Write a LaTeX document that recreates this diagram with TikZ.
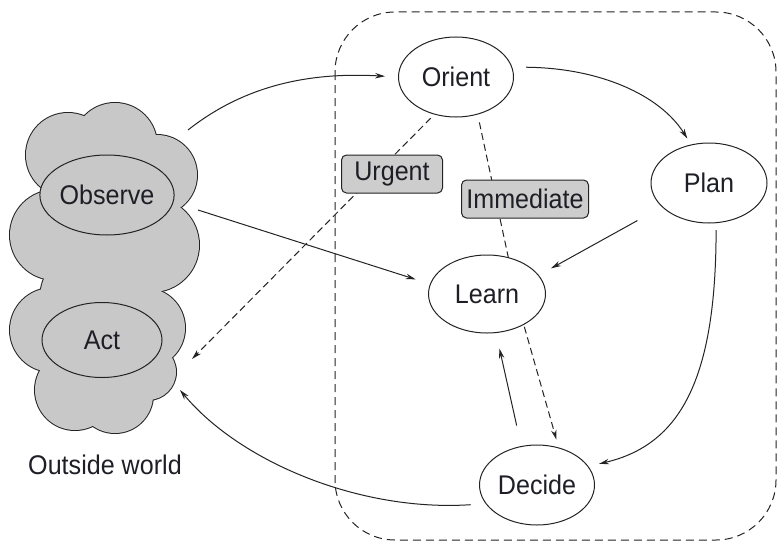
\documentclass[tikz,border=0pt]{standalone}
\usepackage{fontspec}
\setmainfont{Liberation Sans}[FakeStretch=0.93]
\usetikzlibrary{shapes.geometric,arrows.meta}
\definecolor{cloudgray}{RGB}{200,200,200}
\definecolor{taggray}{RGB}{205,205,205}
\definecolor{inkc}{RGB}{35,35,35}
\definecolor{textc}{RGB}{30,30,38}
\begin{document}
\begin{tikzpicture}[x=1pt,y=-1pt,
  ln/.style={draw=inkc, line width=1pt},
  arr/.style={ln, -{Stealth[length=10pt,width=5.5pt]}},
  dsh/.style={dash pattern=on 7pt off 4pt},
  lbl/.style={font=\fontsize{27}{30}\selectfont, text=textc},
  ell/.style={ellipse, draw=inkc, line width=1pt, inner sep=0pt, lbl},
  tag/.style={rectangle, rounded corners=5pt, draw=inkc, fill=taggray, line width=1pt, inner sep=0pt, lbl}]
\useasboundingbox (0,0) rectangle (778,543);
% dashed frame
\draw[ln, dash pattern=on 8pt off 5pt, rounded corners=60pt] (335,12) rectangle (776,540);
% cloud
\foreach \x/\y/\r in {68/155/42, 115/145/42, 157/175/40, 55/235/45, 152/245/47, 100/220/60, 52/330/42, 145/328/40, 75/390/40, 115/395/38, 148/372/28, 100/300/60}
  \draw[inkc, line width=2pt] (\x,\y) circle[radius=\r pt];
\foreach \x/\y/\r in {68/155/42, 115/145/42, 157/175/40, 55/235/45, 152/245/47, 100/220/60, 52/330/42, 145/328/40, 75/390/40, 115/395/38, 148/372/28, 100/300/60}
  \fill[cloudgray] (\x,\y) circle[radius=\r pt];
% nodes
\node[ell, minimum width=115pt, minimum height=80pt] (orient) at (456,77) {Orient};
\node[ell, minimum width=116pt, minimum height=80pt] (plan) at (709,183) {Plan};
\node[ell, minimum width=117pt, minimum height=78pt] (learn) at (487,294) {Learn};
\node[ell, minimum width=115pt, minimum height=80pt] (decide) at (537,485) {Decide};
\node[ell, fill=cloudgray, minimum width=117pt, minimum height=80pt] (observe) at (107,195) {Observe};
\node[ell, fill=cloudgray, minimum width=120pt, minimum height=75pt] (act) at (102,340) {Act};
\node[lbl] (outside) at (105,465) {Outside world};
% free ends at the cloud
\coordinate (c1) at (188,130);
\coordinate (c2) at (198,210);
\coordinate (c3) at (192,359);
\coordinate (c4) at (180,390);
% connectors
\draw[arr, shorten >=13pt] (c1) .. controls (245,85) and (310,72) .. (orient.west);
\draw[arr, shorten <=14pt, shorten >=7pt] (orient.10) .. controls (600,68) and (660,95) .. (plan.115);
\draw[arr, shorten <=28pt, shorten >=14pt] (plan.207) -- (learn.20);
\draw[arr, shorten >=15pt] (c2) -- (learn.170);
\draw[arr, dsh, shorten <=5pt] (orient.240) -- (c3);
\draw[ln, dsh, shorten <=8pt] (orient.300) -- (learn.60);
\draw[arr, dsh, shorten <=2pt, shorten >=8pt] (learn.-40) -- (decide.60);
\draw[arr, shorten <=21pt, shorten >=16pt] (decide.112) -- (learn.-77);
\draw[arr, shorten <=7pt, shorten >=11pt] (plan.-80) .. controls (716,380) and (680,445) .. (decide.20);
\draw[arr, shorten <=15pt] (decide.200) .. controls (360,512) and (240,462) .. (c4);
% tags
\node[tag, minimum width=101pt, minimum height=38pt] (urgent) at (392,174) {Urgent};
\node[tag, minimum width=127pt, minimum height=38pt] (immediate) at (525,199) {Immediate};
\end{tikzpicture}
\end{document}
